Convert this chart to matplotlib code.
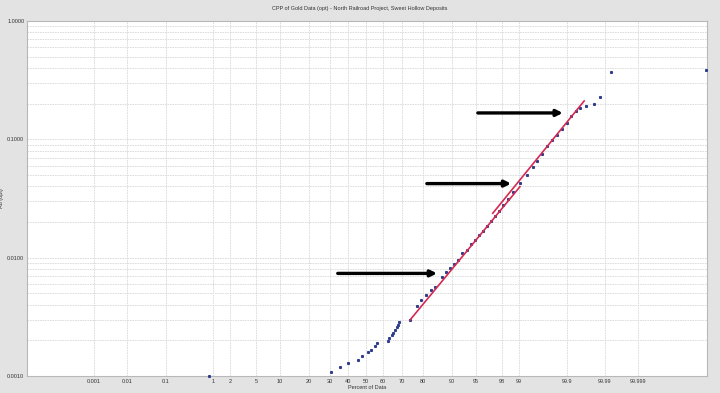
import math
from statistics import NormalDist

import numpy as np
import matplotlib
matplotlib.use("Agg")
import matplotlib.pyplot as plt

plt.rcParams['font.family'] = ['Liberation Sans', 'DejaVu Sans']

# cumulative percent of data / gold grade (opt)
pct_low = [0.85, 30.4, 35.4, 40.2, 45.5, 47.6, 51.2, 52.8, 55.3, 56.7,
           62.6, 63.4, 64.7, 65.6, 66.6, 67.3, 68.0, 68.6]
au_low = [0.0010, 0.00109, 0.00118, 0.00129, 0.00137, 0.00147, 0.00158, 0.00166,
          0.00179, 0.00189, 0.00198, 0.00208, 0.00220, 0.00232, 0.00244,
          0.00258, 0.00271, 0.00286]

pct_high = [74.06, 77.14, 79.1, 81.25, 83.2, 84.7, 86.98, 88.3, 89.46, 90.52,
            91.57, 92.5, 93.37, 94.17, 94.84, 95.47, 96.04, 96.55, 97.0, 97.4,
            97.76, 98.08, 98.42, 98.71, 99.04, 99.29, 99.46, 99.55, 99.645,
            99.72, 99.78, 99.83, 99.87, 99.90, 99.922, 99.94, 99.9525, 99.9663,
            99.9798, 99.9864, 99.9933, 99.9999965]
au_high = [0.00297, 0.00390, 0.00438, 0.00483, 0.00532, 0.00568, 0.00690,
           0.00755, 0.00812, 0.00883, 0.00954, 0.01094, 0.01159, 0.01303,
           0.01409, 0.01552, 0.01679, 0.01849, 0.02039, 0.02248, 0.02477,
           0.02783, 0.03129, 0.03584, 0.04272, 0.04991, 0.05832, 0.06556,
           0.07509, 0.08775, 0.09865, 0.1087, 0.1222, 0.1373, 0.1574, 0.1735,
           0.1828, 0.1923, 0.1976, 0.2291, 0.3728, 0.3853]

# fitted population lines (start, end)
fit_a_pct = [74.06, 99.04]
fit_a_au = [0.00297, 0.0398]
fit_b_pct = [97.18, 99.963]
fit_b_au = [0.0237, 0.211]

x_ticks = [0.001, 0.01, 0.1, 1, 2, 5, 10, 20, 30, 40, 50, 60, 70, 80, 90,
           95, 98, 99, 99.9, 99.99, 99.999]
x_labels = ['0.001', '0.01', '0.1', '1', '2', '5', '10', '20', '30', '40', '50',
            '60', '70', '80', '90', '95', '98', '99', '99.9', '99.99', '99.999']
y_ticks = [0.001, 0.01, 0.1, 1.0]

# spacing of the probability ticks on the original paper (relative units)
tick_spacing = [94, 127, 166, 213, 230, 256, 280, 309, 330, 348, 366, 383, 402,
                423, 452, 476, 502, 519, 567, 605, 638]

nd = NormalDist()
_inv = np.vectorize(nd.inv_cdf, otypes=[float])
_cdf = np.vectorize(lambda v: 0.5 * (1.0 + math.erf(v / math.sqrt(2))), otypes=[float])

zt = _inv(np.array(x_ticks) / 100.0)
ut = np.array(tick_spacing, dtype=float)
end_slope = (ut[-1] - ut[-2]) / (zt[-1] - zt[-2])


def z_to_u(z):
    u = np.interp(z, zt, ut)
    u = np.where(z < zt[0], ut[0] + (z - zt[0]) * end_slope, u)
    u = np.where(z > zt[-1], ut[-1] + (z - zt[-1]) * end_slope, u)
    return u


def u_to_z(u):
    z = np.interp(u, ut, zt)
    z = np.where(u < ut[0], zt[0] + (u - ut[0]) / end_slope, z)
    z = np.where(u > ut[-1], zt[-1] + (u - ut[-1]) / end_slope, z)
    return z


def forward(p):
    p = np.clip(np.asarray(p, dtype=float) / 100.0, 1e-12, 1 - 1e-12)
    return z_to_u(_inv(p))


def inverse(u):
    return 100.0 * _cdf(u_to_z(np.asarray(u, dtype=float)))


fig = plt.figure(figsize=(7.2, 3.93), dpi=100, facecolor='#e3e3e3')
ax = fig.add_axes([27 / 720, 1 - 376 / 393, 680 / 720, 355 / 393])
ax.set_facecolor('white')

ax.set_xscale('function', functions=(forward, inverse))
ax.set_yscale('log')
ax.set_xlim(float(inverse(27.0)), float(inverse(707.0)))
ax.set_ylim(0.001, 1.0)

ax.set_xticks(x_ticks)
ax.set_xticklabels(x_labels)
ax.xaxis.set_minor_locator(matplotlib.ticker.NullLocator())
ax.set_yticks(y_ticks)
ax.set_yticklabels(['%.4f' % v for v in y_ticks])
ax.yaxis.set_minor_formatter(matplotlib.ticker.NullFormatter())
ax.tick_params(axis='both', which='both', length=0, labelsize=4, colors='#333333', pad=2)

ax.grid(True, which='major', axis='x', color='#d8d8d8', linestyle=(0, (2, 1)), lw=0.6)
ax.grid(True, which='both', axis='y', color='#d8d8d8', linestyle=(0, (2, 1)), lw=0.6)
ax.set_axisbelow(True)

for s in ax.spines.values():
    s.set_color('#b8b8b8')
    s.set_linewidth(0.8)

ax.plot(pct_low, au_low, linestyle='none', marker='s', ms=1.2,
        color='#2e3d8c', clip_on=False, zorder=3)
ax.plot(pct_high, au_high, linestyle='none', marker='s', ms=1.2,
        color='#2e3d8c', clip_on=False, zorder=3)
ax.plot(fit_a_pct, fit_a_au, color='#d42a52', lw=1.2, zorder=4)
ax.plot(fit_b_pct, fit_b_au, color='#d42a52', lw=1.2, zorder=4)

# black arrows pointing at the population breaks
arrows = [(0.663, 0.788, 0.741), (0.588, 0.712, 0.542), (0.457, 0.603, 0.289)]
for x0, x1, y in arrows:
    ax.annotate('', xy=(x1, y), xytext=(x0, y), xycoords='axes fraction',
                arrowprops=dict(arrowstyle='-|>', color='black', lw=2.4,
                                mutation_scale=9, shrinkA=0, shrinkB=0), zorder=5)

fig.text(0.5, 0.985, 'CPP of Gold Data (opt) - North Railroad Project, Sweet Hollow Deposits',
         ha='center', va='top', fontsize=4, color='#333333')
ax.set_xlabel('Percent of Data', fontsize=4, color='#333333', labelpad=1)
ax.set_ylabel('Au (opt)', fontsize=4, color='#333333', labelpad=2)

fig.savefig('out.png', dpi=100, facecolor=fig.get_facecolor())
